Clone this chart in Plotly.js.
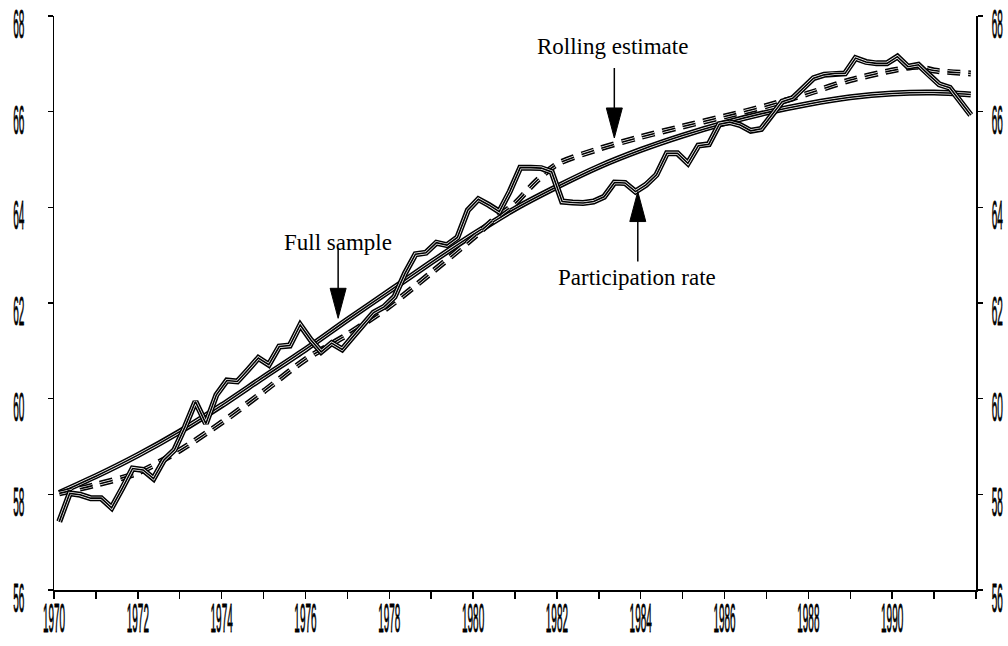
<!DOCTYPE html>
<html>
<head>
<meta charset="utf-8">
<script src="https://cdn.plot.ly/plotly-3.0.1.min.js"></script>
<style>html,body{margin:0;padding:0;background:#fff;} #chart{width:1008px;height:646px;}</style>
</head>
<body>
<div id="chart"></div>
<script>
// ---- Data ----
const startYear = 1970; // quarterly series, first quarter 1970Q1
const participation = [
  57.43, 58.02, 57.99, 57.92, 57.92, 57.72, 58.12, 58.54,
  58.51, 58.33, 58.72, 58.93, 59.41, 59.94, 59.48, 60.08,
  60.38, 60.36, 60.60, 60.85, 60.71, 61.09, 61.11, 61.54,
  61.23, 60.98, 61.16, 61.03, 61.29, 61.54, 61.80, 61.92,
  62.13, 62.62, 63.02, 63.05, 63.26, 63.21, 63.37, 63.94,
  64.17, 64.05, 63.91, 64.33, 64.83, 64.83, 64.82, 64.74,
  64.12, 64.10, 64.09, 64.12, 64.22, 64.52, 64.51, 64.33,
  64.47, 64.68, 65.13, 65.13, 64.92, 65.29, 65.32, 65.74,
  65.78, 65.72, 65.60, 65.64, 65.93, 66.21, 66.28, 66.49,
  66.70, 66.77, 66.80, 66.80, 67.12, 67.04, 67.01, 67.01,
  67.15, 66.94, 66.98, 66.77, 66.57, 66.50, 66.22, 65.93
];
const fullYears = [1970.125, 1971, 1972, 1973, 1974, 1975, 1976, 1977, 1978, 1979, 1980,
  1981, 1982, 1983, 1984, 1985, 1986, 1987, 1988, 1989, 1990, 1991, 1991.875];
const fullSample = [58.03, 58.38, 58.82, 59.31, 59.86, 60.45, 61.03, 61.65, 62.25, 62.85, 63.43,
  63.97, 64.43, 64.85, 65.20, 65.50, 65.76, 65.98, 66.16, 66.30, 66.38, 66.40, 66.36];
const rollYears = [1970.125, 1971, 1972, 1973, 1974, 1975, 1976, 1977, 1978, 1979, 1980,
  1980.5, 1981, 1981.5, 1982, 1983, 1984, 1985, 1986, 1987, 1988, 1989, 1990, 1990.6, 1991, 1991.875];
const rolling = [58.02, 58.20, 58.45, 58.92, 59.50, 60.15, 60.82, 61.34, 61.93, 62.63, 63.36,
  63.75, 64.08, 64.54, 64.90, 65.22, 65.47, 65.69, 65.90, 66.12, 66.38, 66.66, 66.86, 66.94, 66.86, 66.80];
const labeledYears = [1970, 1972, 1974, 1976, 1978, 1980, 1982, 1984, 1986, 1988, 1990];
const minorYears = [1971, 1973, 1975, 1977, 1979, 1981, 1983, 1985, 1987, 1989, 1991, 1992];
const yTicks = [56, 58, 60, 62, 64, 66, 68];
const labels = {
  rolling: {text: 'Rolling estimate', x: 1983.33, y: 67.36},
  full: {text: 'Full sample', x: 1976.78, y: 63.27},
  part: {text: 'Participation rate', x: 1983.9, y: 62.54}
};
const arrowTips = {
  rolling: {x: 1983.37, y: 65.45, dir: 'down'},
  full: {x: 1976.78, y: 61.68, dir: 'down'},
  part: {x: 1983.93, y: 64.33, dir: 'up'}
};

const partX = participation.map((_, i) => startYear + (i + 0.5) / 4);

function striped(x, y, dash, shape) {
  const base = {x: x, y: y, mode: 'lines', hoverinfo: 'skip', showlegend: false};
  const sm = shape === 'spline' ? {shape: 'spline', smoothing: 0.8} : {shape: 'linear'};
  return [
    Object.assign({}, base, {line: Object.assign({color: '#000', width: 6, dash: dash}, sm)}),
    Object.assign({}, base, {line: Object.assign({color: '#fff', width: 3, dash: dash}, sm)}),
    Object.assign({}, base, {line: Object.assign({color: '#000', width: 1.6, dash: dash}, sm)})
  ];
}

const traces = [].concat(
  striped(fullYears, fullSample, 'solid', 'spline'),
  striped(rollYears, rolling, '13px,8px', 'spline'),
  striped(partX, participation, 'solid', 'linear')
);
// invisible trace that activates the right-hand axis
traces.push({x: [1970], y: [56], yaxis: 'y2', mode: 'markers', marker: {opacity: 0}, hoverinfo: 'skip', showlegend: false});

const shapes = [];
Object.keys(arrowTips).forEach(k => {
  const a = arrowTips[k];
  const s = a.dir === 'down' ? 1 : -1; // pixel offsets, positive = up
  shapes.push({type: 'line', xref: 'x', yref: 'y', xsizemode: 'pixel', ysizemode: 'pixel',
    xanchor: a.x, yanchor: a.y, x0: 0, x1: 0, y0: s * 28, y1: s * 70,
    line: {color: '#000', width: 1.5}});
  shapes.push({type: 'path', xref: 'x', yref: 'y', xsizemode: 'pixel', ysizemode: 'pixel',
    xanchor: a.x, yanchor: a.y,
    path: 'M -8,' + (s * 30) + ' L 8,' + (s * 30) + ' L 0,0 Z',
    fillcolor: '#000', line: {color: '#000', width: 1}});
});

const annotations = Object.keys(labels).map(k => ({
  x: labels[k].x, y: labels[k].y, xref: 'x', yref: 'y', text: labels[k].text,
  showarrow: false, xanchor: 'center', yanchor: 'middle',
  font: {family: 'Liberation Serif, Times New Roman, serif', size: 23, color: '#000'}
}));

const xTickFont = {family: 'Liberation Sans, Arial, sans-serif', size: 40, color: '#000'};
const yTickFont = {family: 'Liberation Sans, Arial, sans-serif', size: 41, color: '#000'};
const layout = {
  width: 1008, height: 646,
  margin: {l: 54, r: 32, t: 16, b: 56},
  paper_bgcolor: '#fff', plot_bgcolor: '#fff',
  showlegend: false,
  xaxis: {
    range: [1970, 1992], tickmode: 'array', tickvals: labeledYears, ticktext: labeledYears.map(String),
    tickangle: 0,
    ticks: 'outside', ticklen: 7, tickwidth: 1.5, tickcolor: '#000',
    minor: {tickmode: 'array', tickvals: minorYears, ticks: 'outside', ticklen: 7, tickwidth: 1.5, tickcolor: '#000'},
    showline: true, linecolor: '#000', linewidth: 1.5, showgrid: false, zeroline: false,
    tickfont: xTickFont, ticklabelstandoff: 0, ticklabeloverflow: 'allow'
  },
  yaxis: {
    range: [56, 68], tickmode: 'array', tickvals: yTicks, tickangle: 0,
    ticks: 'outside', ticklen: 5, tickwidth: 1.5, tickcolor: '#000',
    showline: true, linecolor: '#000', linewidth: 1.5, showgrid: false, zeroline: false,
    tickfont: yTickFont, ticklabelstandoff: 15, ticklabeloverflow: 'allow'
  },
  yaxis2: {
    range: [56, 68], tickmode: 'array', tickvals: yTicks, overlaying: 'y', side: 'right', tickangle: 0,
    ticks: 'outside', ticklen: 5, tickwidth: 1.5, tickcolor: '#000',
    showline: true, linecolor: '#000', linewidth: 1.5, showgrid: false, zeroline: false,
    tickfont: yTickFont, ticklabelstandoff: 1, ticklabeloverflow: 'allow'
  },
  shapes: shapes,
  annotations: annotations
};

// Condense tick labels horizontally (the reference uses a very narrow face)
function squeezeTicks() {
  document.querySelectorAll('.xtick text, .ytick text, .y2tick text').forEach(t => {
    if (t.getAttribute('data-sq')) return;
    const x = parseFloat(t.getAttribute('x')) || 0;
    const isY = t.closest('.ytick, .y2tick') !== null;
    const dy = isY ? 7.5 : -14;
    const sx = isY ? 0.245 : 0.25;
    const tr = t.getAttribute('transform') || '';
    t.setAttribute('transform', tr + ' translate(' + x + ',' + dy + ') scale(' + sx + ',1) translate(' + (-x) + ',0)');
    t.style.stroke = '#000';
    t.style.strokeWidth = '0.8px';
    t.setAttribute('data-sq', '1');
  });
}

Plotly.newPlot('chart', traces, layout, {staticPlot: true, displayModeBar: false}).then(squeezeTicks);
</script>
</body>
</html>
